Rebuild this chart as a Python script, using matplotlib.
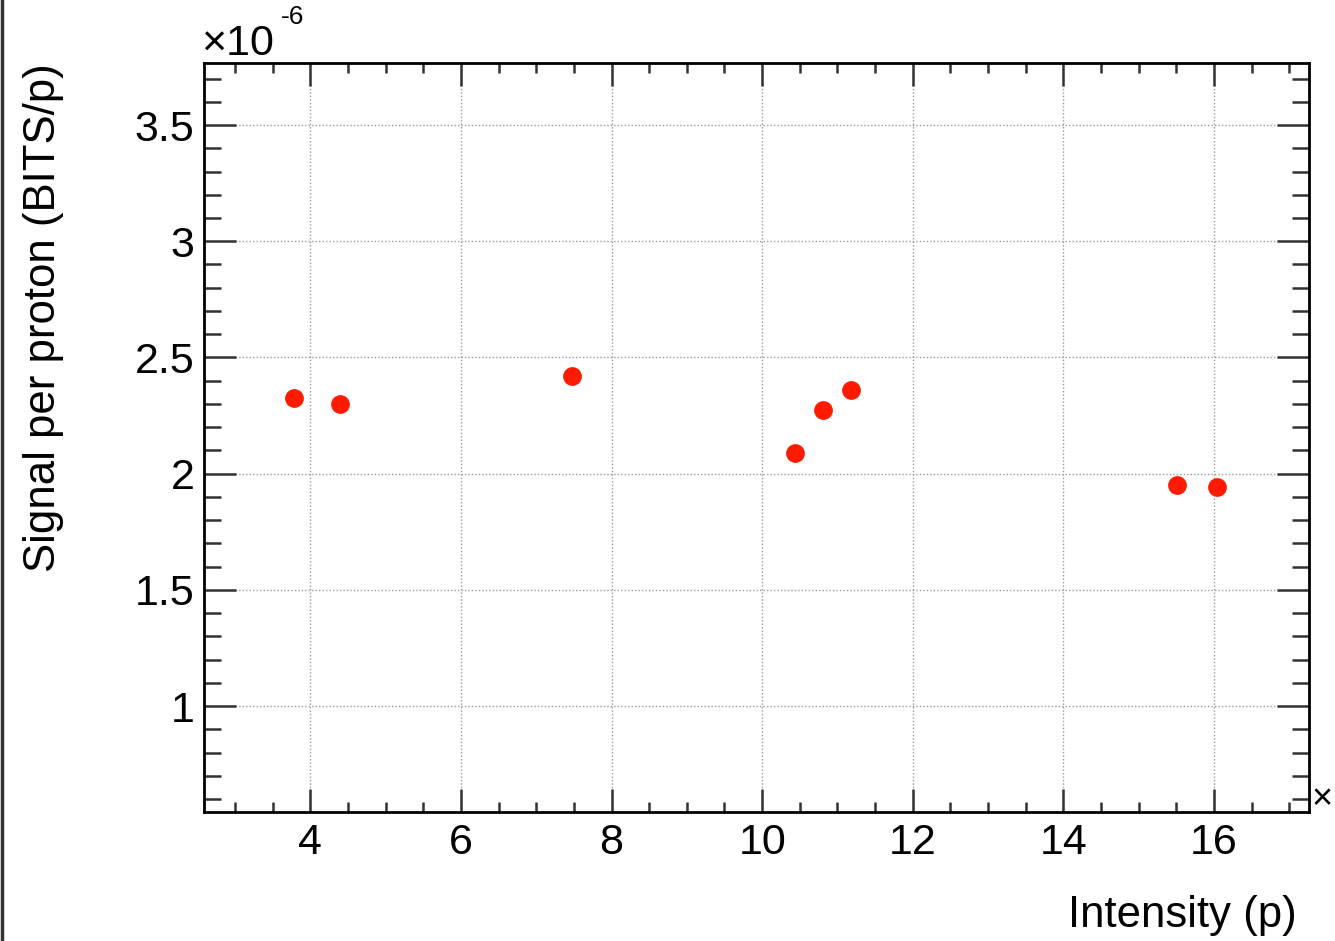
import matplotlib
matplotlib.use("Agg")
import matplotlib.pyplot as plt
from matplotlib.ticker import MultipleLocator, FuncFormatter
from matplotlib.lines import Line2D

plt.rcParams['font.family'] = ['Liberation Sans', 'DejaVu Sans']

# Data (x in arbitrary scaled units, y in units of 1e-6)
intensity = [3.79, 4.40, 7.48, 10.44, 10.81, 11.18, 15.51, 16.04]
signal_per_proton = [2.325, 2.30, 2.42, 2.089, 2.274, 2.36, 1.951, 1.942]

x_label = "Intensity (p)"
y_label = "Signal per proton (BITS/p)"

W, H = 1335, 941
fig = plt.figure(figsize=(W / 100, H / 100), dpi=100)
ax = fig.add_axes([204 / W, 1 - 812 / H, (1309 - 204) / W, (812 - 63) / H])

ax.plot(intensity, signal_per_proton, 'o', color='#ff1a00', markersize=13.5,
        markeredgewidth=0, zorder=5)

ax.set_xlim(2.59, 17.26)
ax.set_ylim(0.544, 3.767)

ax.xaxis.set_major_locator(MultipleLocator(2))
ax.xaxis.set_minor_locator(MultipleLocator(0.5))
ax.yaxis.set_major_locator(MultipleLocator(0.5))
ax.yaxis.set_minor_locator(MultipleLocator(0.1))

ax.grid(True, which='major', color='#999999', linestyle=(0, (1, 1.5)), linewidth=1.0)

for s in ax.spines.values():
    s.set_linewidth(2.0)
    s.set_color('black')

ax.tick_params(axis='both', which='both', direction='in', top=True, right=True,
               width=1.8, color='#333333')
ax.tick_params(axis='x', which='major', length=16.5, labelsize=31, pad=8)
ax.tick_params(axis='x', which='minor', length=7.5)
ax.tick_params(axis='y', which='major', length=23, labelsize=31, pad=7)
ax.tick_params(axis='y', which='minor', length=12)

def fmt(v, pos):
    return '%g' % v
ax.xaxis.set_major_formatter(FuncFormatter(fmt))
ax.yaxis.set_major_formatter(FuncFormatter(fmt))

# Axis labels (ROOT style placement)
fig.text(1297 / W, 1 - 915 / H, x_label, ha='right', va='center', fontsize=31.5)
fig.text(44 / W, 1 - 318 / H, y_label, ha='center', va='center', rotation=90, fontsize=31.5)

# Exponent labels
fig.text(201 / W, 1 - 44 / H, "×10", ha='left', va='center', fontsize=31)
fig.text(281 / W, 1 - 17 / H, "-6", ha='left', va='center', fontsize=19)
fig.text(1333 / W, 1 - 800 / H, "×", ha='right', va='center', fontsize=26)

# Left frame line of the canvas
fig.add_artist(Line2D([1.5 / W, 1.5 / W], [0, 1], transform=fig.transFigure,
                      color='#333333', linewidth=2.5))

fig.savefig("out.png", dpi=100)
